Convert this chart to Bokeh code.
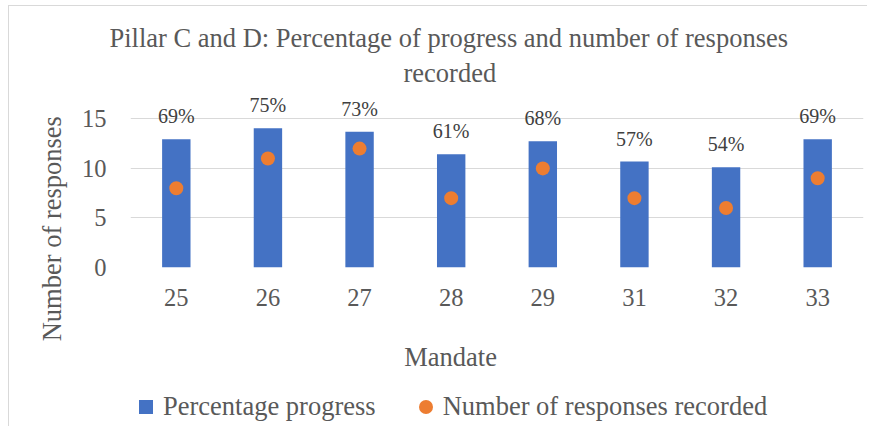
from bokeh.plotting import figure
from bokeh.layouts import column
from bokeh.models import (Range1d, FactorRange, Title, Legend, LegendItem,
                          ColumnDataSource, FixedTicker)
from bokeh.core.properties import value
from bokeh.embed import file_html
from bokeh.resources import INLINE

# ---- data ----
mandates = ["25", "26", "27", "28", "29", "31", "32", "33"]
pct_progress = [69, 75, 73, 61, 68, 57, 54, 69]
responses = [8, 11, 12, 7, 10, 7, 6, 9]
y_ticks = [0, 5, 10, 15]
title_lines = ["Pillar C and D: Percentage of progress and number of responses",
               "recorded"]
x_title = "Mandate"
y_title = "Number of responses"
series_names = ["Percentage progress", "Number of responses recorded"]

# ---- styling / layout ----
FONT = "Liberation Serif"
TXT = "#595959"
BLUE, ORANGE = "#4472c4", "#ed7d31"
COUNT_MAX = 15          # primary axis top gridline
PCT_MAX = 80            # hidden secondary axis maximum (same height as COUNT_MAX)
Y_END = 17.86           # headroom above the top gridline for data labels
W = 867
H_TOP, H_BOT = 384, 42
FRAME_L, FRAME_R = 130, 863
NBSP = "\u00a0"

p = figure(width=W, height=H_TOP,
           x_range=FactorRange(factors=mandates, range_padding=0),
           y_range=Range1d(0, Y_END),
           output_backend="svg", toolbar_location=None,
           min_border_left=FRAME_L, min_border_right=W - FRAME_R,
           min_border_top=90, min_border_bottom=H_TOP - 267)
p.extra_y_ranges = {"pct": Range1d(0, PCT_MAX * Y_END / COUNT_MAX)}
p.outline_line_color = None
p.background_fill_color = "white"
p.border_fill_color = None
p.styles = {"box-shadow": "inset 8px 5px 0 0 white, inset 9px 6px 0 0 #d9d9d9"}

src = ColumnDataSource(dict(x=mandates, pct=pct_progress, resp=responses,
                            lbl=[f"{v}%" for v in pct_progress]))

bars = p.vbar(x="x", top="pct", width=0.31, source=src, y_range_name="pct",
              fill_color=BLUE, line_color=None)
p.text(x="x", y="pct", text="lbl", source=src, y_range_name="pct",
       text_align="center", text_baseline="alphabetic", y_offset=-23,
       text_font=value(FONT), text_font_size="20px", text_color="#404040")
dots = p.scatter(x="x", y="resp", source=src, size=14,
                 fill_color=ORANGE, line_color=None)

for ax in (p.xaxis, p.yaxis):
    ax.axis_line_color = None
    ax.major_tick_line_color = None
    ax.minor_tick_line_color = None
    ax.major_tick_out = 0
    ax.major_label_text_font = FONT
    ax.major_label_text_font_size = "24.5px"
    ax.major_label_text_color = TXT
    ax.axis_label_text_font = FONT
    ax.axis_label_text_font_size = "26.5px"
    ax.axis_label_text_font_style = "normal"
    ax.axis_label_text_color = TXT
p.xaxis.major_label_standoff = 21
p.yaxis.major_label_standoff = 24
p.yaxis.ticker = FixedTicker(ticks=y_ticks)
# axis titles padded with no-break spaces so they sit off-centre as in the original
p.yaxis.axis_label = y_title + NBSP * 15
p.yaxis.axis_label_standoff = 12
p.xaxis.axis_label = x_title + NBSP * 14
p.xaxis.axis_label_standoff = 33
p.xgrid.grid_line_color = None
p.ygrid.ticker = FixedTicker(ticks=y_ticks)
p.ygrid.grid_line_color = "#d9d9d9"
p.ygrid.grid_line_width = 1.2

def title(text, offset, standoff):
    p.add_layout(Title(text=text, align="left", offset=offset, standoff=standoff,
                       text_font=FONT, text_font_size="26.5px",
                       text_font_style="normal", text_color=TXT), "above")

title(title_lines[1], 273, 6)
title(title_lines[0], -21, 0)

# ---- lower strip: legend (frame aligned with the chart's) ----
q = figure(width=W, height=H_BOT, x_range=Range1d(FRAME_L, FRAME_R),
           y_range=Range1d(0, H_BOT),
           output_backend="svg", toolbar_location=None,
           x_axis_location=None, y_axis_location=None,
           min_border_left=FRAME_L, min_border_right=W - FRAME_R,
           min_border_top=0, min_border_bottom=0)
q.grid.visible = False
q.outline_line_color = None
q.background_fill_color = None
q.border_fill_color = None
q.styles = {"box-shadow": "inset 8px 0 0 0 white, inset 9px 0 0 0 #d9d9d9"}

nan = float("nan")
sw_bar = q.scatter(x=[nan], y=[nan], marker="square", size=14,
                   fill_color=BLUE, line_color=None)
sw_dot = q.scatter(x=[nan], y=[nan], marker="circle", size=14,
                   fill_color=ORANGE, line_color=None)
legend = Legend(items=[LegendItem(label=series_names[0], renderers=[sw_bar]),
                       LegendItem(label=series_names[1], renderers=[sw_dot])],
                location=(-2, 2), orientation="horizontal",
                glyph_width=35, glyph_height=35, label_standoff=0, spacing=32,
                padding=0, margin=0, border_line_color=None,
                background_fill_alpha=0,
                label_text_font=FONT, label_text_font_size="26.5px",
                label_text_color=TXT)
q.add_layout(legend, "center")

open("out.html", "w").write(file_html(column(p, q, spacing=0), INLINE))
